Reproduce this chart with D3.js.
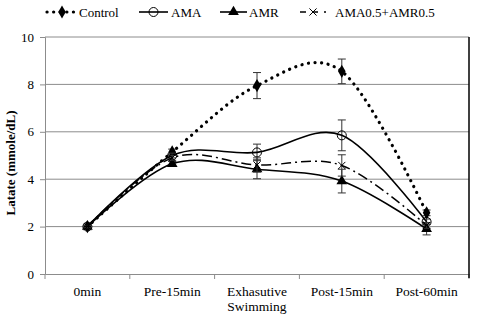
<!DOCTYPE html>
<html><head><meta charset="utf-8">
<script src="https://cdn.jsdelivr.net/npm/d3@7"></script>
<style>body{margin:0;background:#fff}svg{display:block}</style>
</head><body><svg id="c" width="484" height="325"></svg>
<script>
const categories = ["0min","Pre-15min","Exhasutive\nSwimming","Post-15min","Post-60min"];
const seriesNames = ["Control","AMA","AMR","AMA0.5+AMR0.5"];
const controlVals = [2.0, 5.15, 7.95, 8.55, 2.58];
const controlErr  = [0.05, 0.12, 0.55, 0.52, 0.12];
const amaVals = [2.0, 5.0, 5.13, 5.85, 2.2];
const amaErr  = [0.05, 0.1, 0.35, 0.65, 0.12];
const amrVals = [2.0, 4.65, 4.42, 3.92, 1.9];
const amrErr  = [0.05, 0.1, 0.4, 0.5, 0.25];
const mixVals = [2.0, 4.9, 4.6, 4.58, 2.05];
const mixErr  = [0.05, 0.1, 0.3, 0.45, 0.12];
const yTicks = [0,2,4,6,8,10];

const FONT = "Liberation Serif";
const svg = d3.select("#c").attr("font-family", FONT);
const m = {l:45, r:469, t:37, b:274};
const x = d3.scaleBand().domain(categories).range([m.l, m.r]);
const y = d3.scaleLinear().domain([0,10]).range([m.b, m.t]);
const cx = c => x(c) + x.bandwidth()/2;

svg.append("g").selectAll("line").data(yTicks.filter(d=>d>0)).join("line")
  .attr("x1", m.l).attr("x2", m.r).attr("y1", d=>y(d)).attr("y2", d=>y(d))
  .attr("stroke", "#8c8c8c").attr("stroke-width", 1);

const ya = svg.append("g").attr("transform", `translate(${m.l},0)`)
  .call(d3.axisLeft(y).tickValues(yTicks).tickSize(5).tickPadding(6));
ya.attr("font-family", FONT);
ya.select(".domain").attr("stroke", "#8c8c8c");
ya.selectAll(".tick line").attr("stroke", "#8c8c8c");
ya.selectAll("text").attr("font-size", 13).attr("fill", "#000").attr("font-family", FONT);

const xa = svg.append("g").attr("transform", `translate(0,${m.b})`)
  .call(d3.axisBottom(x).tickSize(0).tickFormat(""));
xa.select(".domain").attr("stroke", "#8c8c8c");
const bounds = categories.map(c => x(c)).concat([m.r]);
xa.selectAll(".bt").data(bounds).join("line").attr("class","bt")
  .attr("x1", d=>d).attr("x2", d=>d).attr("y1", 0).attr("y2", 5).attr("stroke", "#8c8c8c");
categories.forEach(c => {
  const lines = c.split("\n");
  const t = svg.append("text").attr("x", cx(c)).attr("y", 296).attr("text-anchor","middle").attr("font-size", 13.5).attr("font-family", FONT);
  lines.forEach((l,i) => t.append("tspan").attr("x", cx(c)).attr("dy", i ? 15 : 0).text(l));
});
svg.append("line").attr("x1", m.r).attr("x2", m.r).attr("y1", m.t).attr("y2", m.b+4).attr("stroke","#000").attr("stroke-width",1.5);

svg.append("text").attr("transform", `translate(15,163) rotate(-90)`)
  .attr("text-anchor","middle").attr("font-size", 13).attr("font-weight","bold").attr("font-family", FONT).text("Latate (mmole/dL)");

const series = [
  {name: seriesNames[0], vals: controlVals, err: controlErr, dash: "0.1 6.5", width: 3.2, cap: "round", marker: "diamond"},
  {name: seriesNames[1], vals: amaVals, err: amaErr, dash: null, width: 1.6, cap: "butt", marker: "circle"},
  {name: seriesNames[2], vals: amrVals, err: amrErr, dash: null, width: 1.6, cap: "butt", marker: "triangle"},
  {name: seriesNames[3], vals: mixVals, err: mixErr, dash: "10 4 2 4", width: 1.5, cap: "butt", marker: "x"}
];

const line = d3.line().x(d=>cx(d.c)).y(d=>y(d.v)).curve(d3.curveCardinal.tension(0));

function drawMarker(g, type, px, py) {
  if (type === "diamond") g.append("path").attr("d", d3.symbol(d3.symbolDiamond, 50)()).attr("transform",`translate(${px},${py})`).attr("fill","#000");
  else if (type === "circle") g.append("circle").attr("cx",px).attr("cy",py).attr("r",4.5).attr("fill","none").attr("stroke","#000").attr("stroke-width",1);
  else if (type === "triangle") g.append("path").attr("d", d3.symbol(d3.symbolTriangle, 50)()).attr("transform",`translate(${px},${py})`).attr("fill","#000");
  else if (type === "x") g.append("path").attr("d", d3.symbol(d3.symbolX, 35)()).attr("transform",`translate(${px},${py})`).attr("fill","none").attr("stroke","#000").attr("stroke-width",1);
}

series.forEach(s => {
  const g = svg.append("g");
  const pts = categories.map((c,i) => ({c, v: s.vals[i], e: s.err[i]}));
  pts.forEach(p => {
    const px = cx(p.c);
    g.append("line").attr("x1",px).attr("x2",px).attr("y1",y(p.v+p.e)).attr("y2",y(p.v-p.e)).attr("stroke","#333").attr("stroke-width",1);
    [p.v+p.e, p.v-p.e].forEach(v => g.append("line").attr("x1",px-4).attr("x2",px+4).attr("y1",y(v)).attr("y2",y(v)).attr("stroke","#333").attr("stroke-width",1));
  });
  g.append("path").datum(pts).attr("d", line).attr("fill","none").attr("stroke","#000")
    .attr("stroke-width", s.width).attr("stroke-dasharray", s.dash).attr("stroke-linecap", s.cap);
  pts.forEach(p => drawMarker(g, s.marker, cx(p.c), y(p.v)));
});

const leg = [
  {s: series[0], x0: 47, x1: 77, tx: 79},
  {s: series[1], x0: 139, x1: 168, tx: 171},
  {s: series[2], x0: 220, x1: 247, tx: 249},
  {s: series[3], x0: 300, x1: 326, tx: 335}
];
leg.forEach(l => {
  const g = svg.append("g");
  const ly = 12;
  g.append("line").attr("x1",l.x0).attr("x2",l.x1).attr("y1",ly).attr("y2",ly).attr("stroke","#000")
    .attr("stroke-width", l.s.width).attr("stroke-dasharray", l.s.marker==="x" ? "6 6" : l.s.dash).attr("stroke-linecap", l.s.cap);
  drawMarker(g, l.s.marker, (l.x0+l.x1)/2, ly);
  g.append("text").attr("x", l.tx).attr("y", ly+4.5).attr("font-size", 13).attr("font-family", FONT).text(l.s.name);
});
</script></body></html>
